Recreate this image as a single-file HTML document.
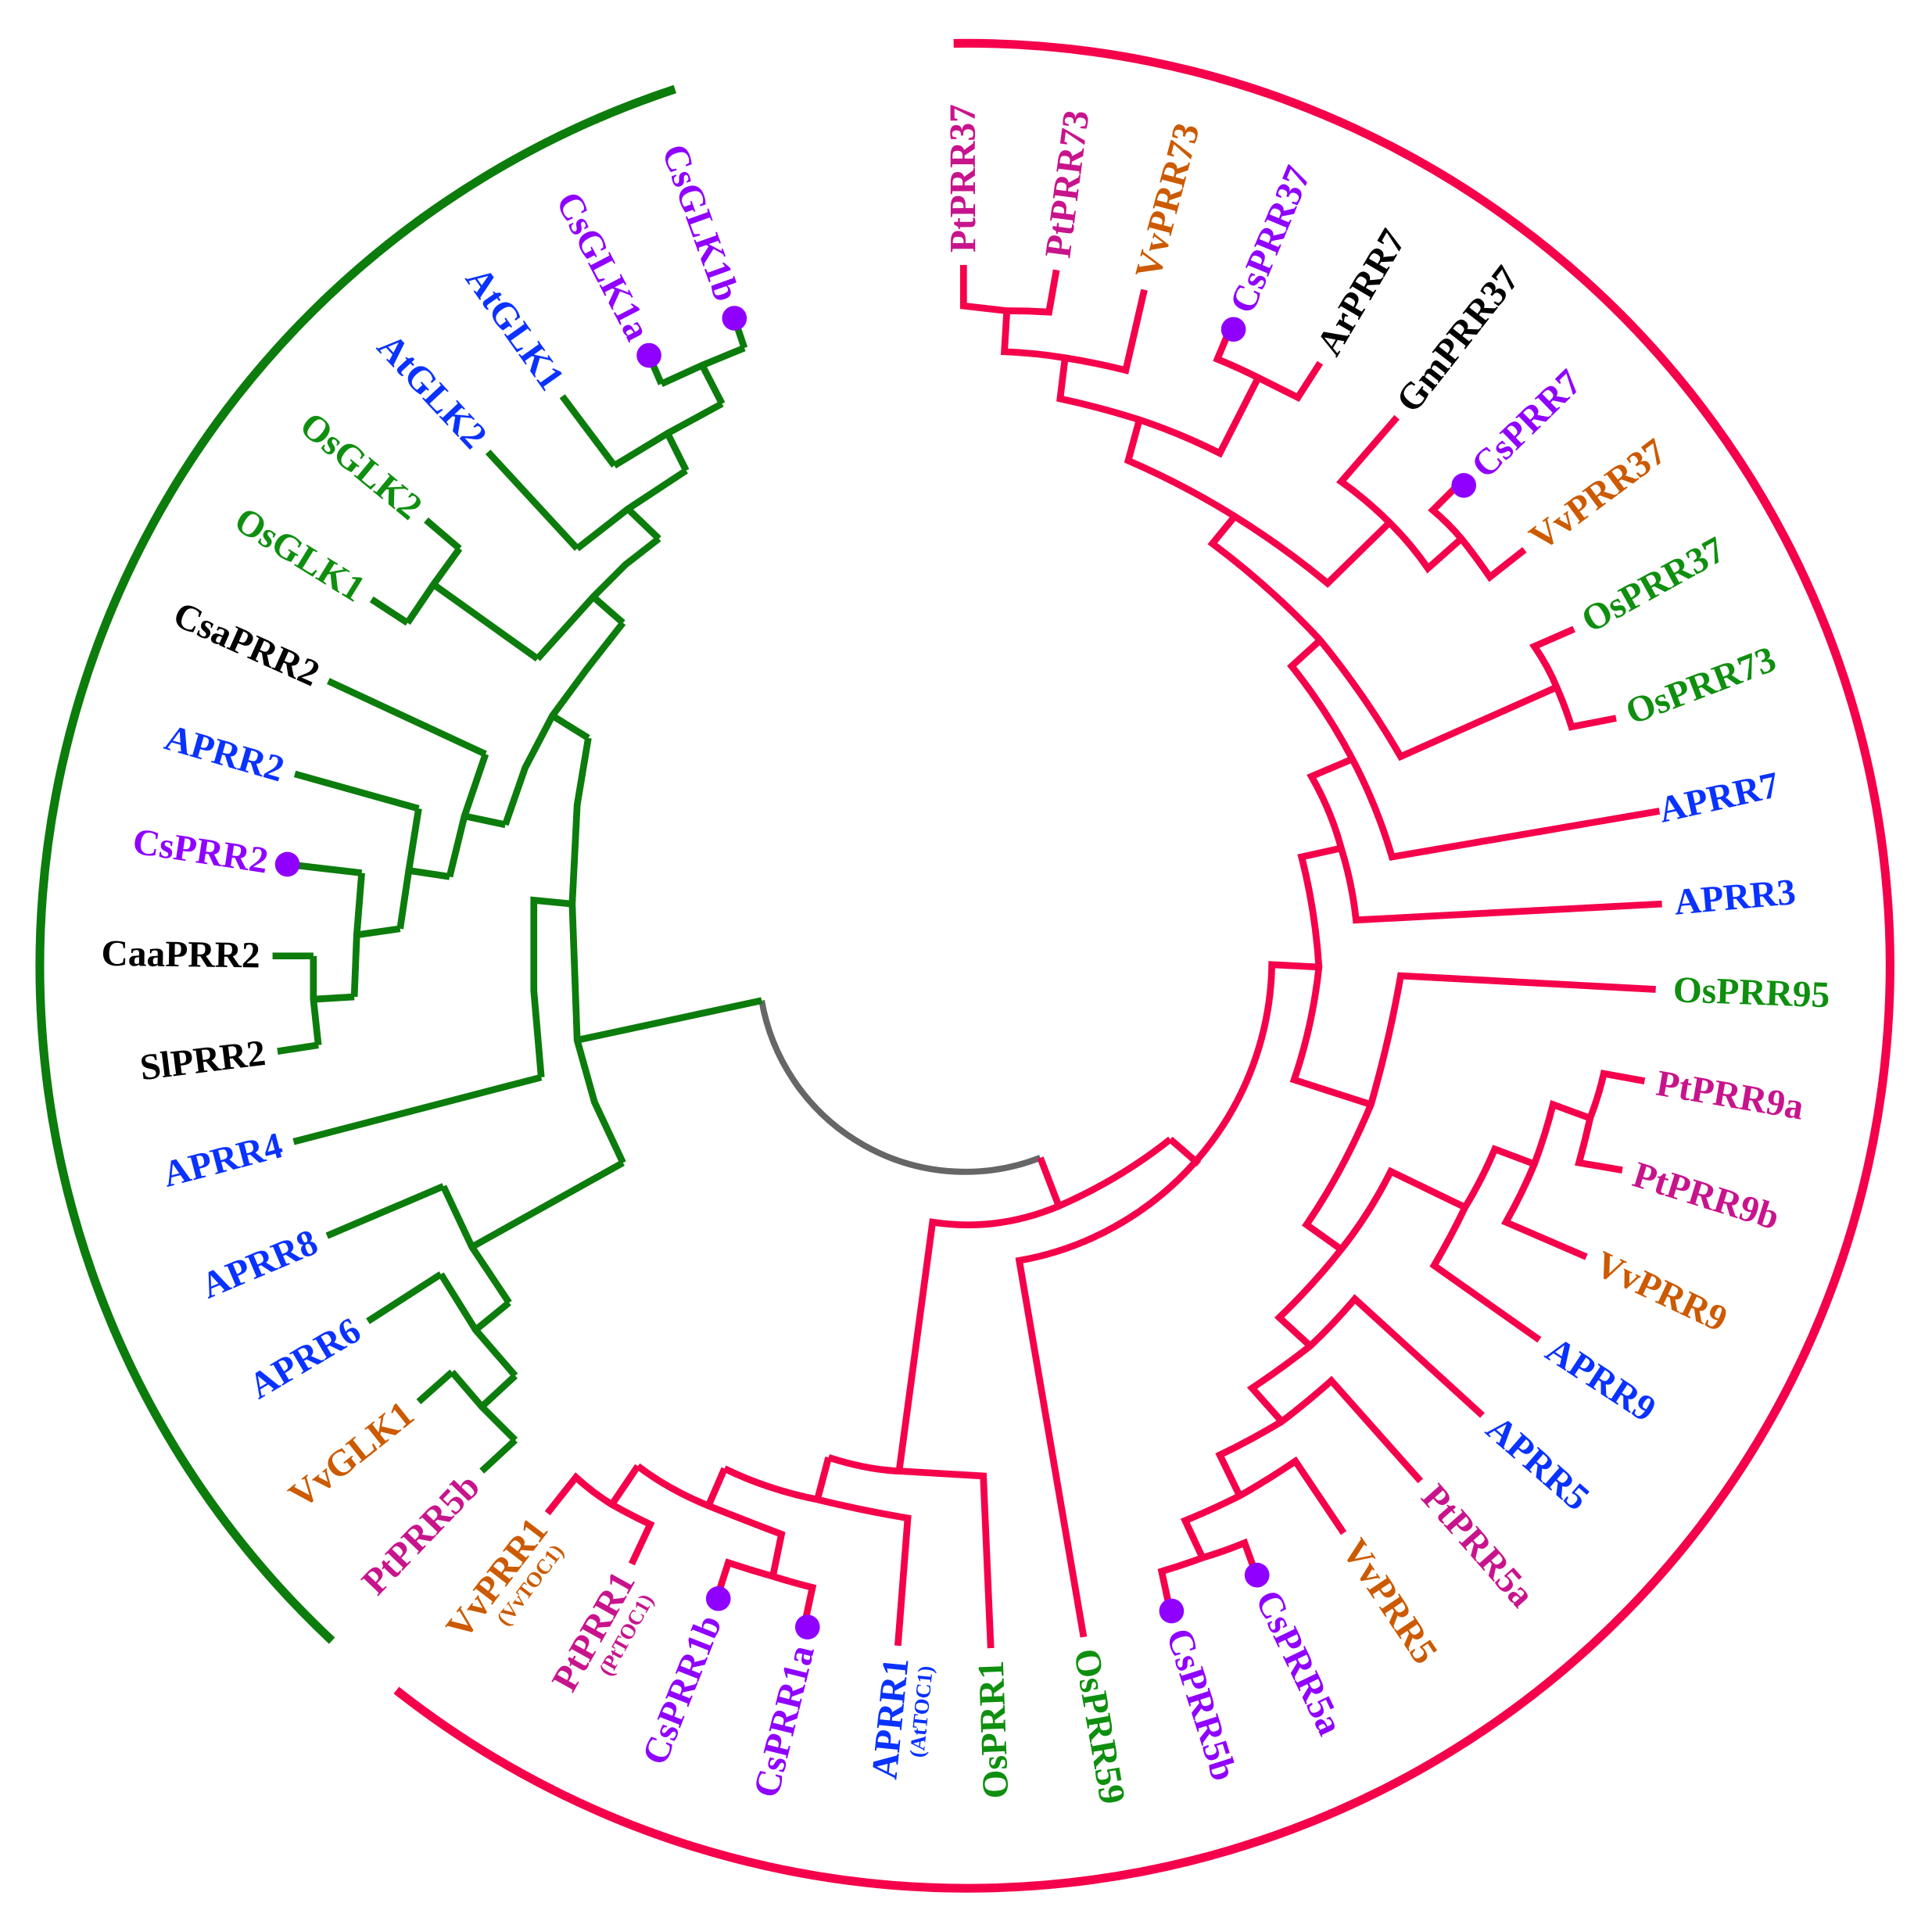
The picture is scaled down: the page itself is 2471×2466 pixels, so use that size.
<!DOCTYPE html>
<html><head><meta charset="utf-8"><style>
html,body{margin:0;padding:0;background:#fff}
svg{display:block}
text{font-family:"Liberation Serif","DejaVu Serif",serif;font-weight:bold;font-size:30px}
.s{font-size:17px}
</style></head><body>
<svg width="2471" height="2466" viewBox="0 0 1560 1557" xmlns="http://www.w3.org/2000/svg">
<rect width="1560" height="1557" fill="#fff"/>
<!-- outer arcs -->
<path d="M545,72 A746,746 0 0 0 268,1325" fill="none" stroke="#0c7c0c" stroke-width="7"/>
<path d="M770,35 A745,745 0 1 1 320,1365" fill="none" stroke="#f5004b" stroke-width="7"/>
<!-- gray root -->
<path d="M615,808 A167,167 0 0 0 840,935" fill="none" stroke="#666" stroke-width="5"/>
<g fill="none" stroke="#0c7c0c" stroke-width="5.5" stroke-linejoin="miter">
<path d="M615,808 L466,840"/>
<path d="M475,596 L466,650 L462,730 L466,840 L480,890 L503,939"/>
<path d="M475,596 L446,578"/>
<path d="M503,503 L474,540 L446,578 L424,620 L408,666"/>
<path d="M503,503 L479,482"/>
<path d="M532,435 L505,456 L479,482 L434,532"/>
<path d="M434,532 L350,472"/>
<path d="M371,443 L350,472 L329,503"/>
<path d="M344,420 L371,443"/>
<path d="M300,484 L329,503"/>
<path d="M532,435 L507,411"/>
<path d="M554,380 L507,411 L466,443"/>
<path d="M394,365 L466,443"/>
<path d="M554,380 L539,350"/>
<path d="M583,326 L539,350 L496,376"/>
<path d="M454,320 L496,376"/>
<path d="M583,326 L567,295"/>
<path d="M601,281 L567,295 L534,310"/>
<path d="M534,310 L524,287"/>
<path d="M601,281 L593,257"/>
<path d="M408,666 L375,659"/>
<path d="M392,609 L375,659 L363,708"/>
<path d="M265,550 L392,609"/>
<path d="M363,708 L330,703"/>
<path d="M338,653 L330,703 L323,750"/>
<path d="M238,625 L338,653"/>
<path d="M323,750 L288,755"/>
<path d="M292,705 L288,755 L286,805"/>
<path d="M232,698 L292,705"/>
<path d="M286,805 L253,807"/>
<path d="M253,772 L253,807 L257,844"/>
<path d="M220,772 L253,772"/>
<path d="M224,849 L257,844"/>
<path d="M462,730 L431,727 L431,800 L437,870"/>
<path d="M237,922 L437,870"/>
<path d="M503,939 L381,1007"/>
<path d="M358,958 L381,1007 L411,1052"/>
<path d="M264,998 L358,958"/>
<path d="M411,1052 L384,1074"/>
<path d="M356,1029 L384,1074 L416,1111"/>
<path d="M297,1067 L356,1029"/>
<path d="M416,1111 L389,1136"/>
<path d="M365,1108 L389,1136 L416,1163"/>
<path d="M338,1132 L365,1108"/>
<path d="M416,1163 L389,1188"/>
</g>
<g fill="none" stroke="#f5004b" stroke-width="5.5">
<path d="M840,935 L855,974"/>
<path d="M726,1188 L753,987 Q805,995 855,974 Q905,952 945,920"/>
<path d="M669,1177 Q700,1187 726,1188 Q760,1190 794,1192 L800,1331"/>
<path d="M669,1177 L660,1211"/>
<path d="M585,1186 Q620,1203 660,1211 Q697,1220 733,1226 L725,1329"/>
<path d="M585,1186 L572,1216"/>
<path d="M515,1184 Q540,1203 572,1216 Q602,1228 631,1239 L624,1273"/>
<path d="M580,1287 L588,1262 Q606,1268 624,1273 Q640,1278 656,1282 L650,1310"/>
<path d="M515,1184 L494,1215"/>
<path d="M442,1222 L465,1193 Q478,1205 494,1215 Q510,1224 525,1231 L510,1263"/>
<path d="M945,920 L968,940"/>
<path d="M875,1322 L823,1018 A247,247 0 0 0 1027,779 L1065,781"/>
<path d="M1083,685 L1051,692 Q1062,735 1065,781 Q1060,828 1045,872 L1107,892"/>
<path d="M1092,613 L1059,627 Q1075,655 1083,685 Q1092,714 1095,743 L1342,730"/>
<path d="M1066,517 L1043,538 Q1071,573 1092,613 Q1112,651 1124,692 L1340,655"/>
<path d="M997,417 L979,439 Q1027,475 1066,517 Q1102,561 1131,611 L1257,555"/>
<path d="M1271,508 L1239,522 Q1250,538 1257,555 Q1264,571 1269,587 L1305,580"/>
<path d="M920,339 L911,372 Q957,392 997,417 Q1037,442 1072,471 L1122,422"/>
<path d="M1128,337 L1083,389 Q1104,404 1122,422 Q1140,440 1153,459 L1180,435"/>
<path d="M1178,391 L1157,412 Q1170,423 1180,435 Q1192,450 1203,466 L1231,444"/>
<path d="M860,289 L856,322 Q889,329 920,339 Q953,350 985,366 L1016,305"/>
<path d="M993,266 L983,290 Q1000,297 1016,305 Q1032,313 1048,321 L1066,293"/>
<path d="M813,251 L811,284 Q836,285 860,289 Q885,293 909,299 L924,234"/>
<path d="M778,214 L778,247 Q796,249 813,251 Q830,251 847,252 L853,218"/>
<path d="M1337,799 L1131,788 Q1122,840 1107,892 Q1085,945 1055,989 L1083,1009"/>
<path d="M1183,975 L1123,946 Q1106,980 1083,1009 Q1060,1038 1033,1064 L1058,1087"/>
<path d="M1239,940 L1207,928 Q1197,952 1183,975 Q1172,998 1158,1022 L1243,1082"/>
<path d="M1284,903 L1254,892 Q1248,916 1239,940 Q1229,964 1216,987 L1281,1015"/>
<path d="M1328,873 L1295,867 Q1291,885 1284,903 Q1280,921 1275,939 L1310,945"/>
<path d="M1197,1143 L1094,1049 Q1077,1069 1058,1087 Q1035,1105 1011,1121 L1035,1148"/>
<path d="M1147,1196 L1075,1115 Q1056,1132 1035,1148 Q1010,1163 985,1175 L1001,1208"/>
<path d="M1085,1238 L1046,1180 Q1024,1195 1001,1208 Q979,1219 957,1228 L971,1258"/>
<path d="M1013,1268 L1005,1246 Q988,1253 971,1258 Q955,1264 938,1269 L944,1297"/>
</g>
<g fill="#9000ff">
<circle cx="593" cy="257" r="10"/><circle cx="524" cy="287" r="10"/>
<circle cx="232" cy="698" r="10"/><circle cx="580" cy="1291" r="10"/>
<circle cx="652" cy="1314" r="10"/><circle cx="946" cy="1301" r="10"/>
<circle cx="1015" cy="1272" r="10"/><circle cx="1182" cy="392" r="10"/>
<circle cx="996" cy="266" r="10"/>
</g>
<g dominant-baseline="central">
<!-- green side (left, flipped) -->
<text transform="translate(593,257) rotate(70.3)" x="-16" text-anchor="end" fill="#9000ff">CsGLK1b</text>
<text transform="translate(524,287) rotate(62.6)" x="-16" text-anchor="end" fill="#9000ff">CsGLK1a</text>
<text transform="translate(454,320) rotate(54.7)" x="-10" text-anchor="end" fill="#0a32ff">AtGLK1</text>
<text transform="translate(394,365) rotate(47.1)" x="-10" text-anchor="end" fill="#0a32ff">AtGLK2</text>
<text transform="translate(344,420) rotate(39.5)" x="-10" text-anchor="end" fill="#0f8f0f">OsGLK2</text>
<text transform="translate(300,484) rotate(31.7)" x="-10" text-anchor="end" fill="#0f8f0f">OsGLK1</text>
<text transform="translate(265,550) rotate(24.1)" x="-10" text-anchor="end" fill="#000">CsaPRR2</text>
<text transform="translate(238,625) rotate(16)" x="-10" text-anchor="end" fill="#0a32ff">APRR2</text>
<text transform="translate(232,698) rotate(8.5)" x="-16" text-anchor="end" fill="#9000ff">CsPRR2</text>
<text transform="translate(220,772) rotate(0.8)" x="-10" text-anchor="end" fill="#000">CaaPRR2</text>
<text transform="translate(224,849) rotate(-7.1)" x="-10" text-anchor="end" fill="#000">SlPRR2</text>
<text transform="translate(237,922) rotate(-14.7)" x="-10" text-anchor="end" fill="#0a32ff">APRR4</text>
<text transform="translate(264,998) rotate(-22.9)" x="-10" text-anchor="end" fill="#0a32ff">APRR8</text>
<text transform="translate(297,1067) rotate(-30.7)" x="-10" text-anchor="end" fill="#0a32ff">APRR6</text>
<text transform="translate(338,1132) rotate(-38.5)" x="-10" text-anchor="end" fill="#cc5a00">VvGLK1</text>
<text transform="translate(389,1188) rotate(-46.2)" x="-10" text-anchor="end" fill="#c8148c">PtPRR5b</text>
<!-- bottom -->
<text transform="translate(442,1222) rotate(-52.6)" x="-10" text-anchor="end" fill="#cc5a00">VvPRR1</text>
<text transform="translate(442,1222) rotate(-52.6)" x="-16" y="24" text-anchor="end" fill="#cc5a00" class="s">(VvTOC1)</text>
<text transform="translate(510,1263) rotate(-60.8)" x="-10" text-anchor="end" fill="#c8148c">PtPRR1</text>
<text transform="translate(510,1263) rotate(-60.8)" x="-16" y="24" text-anchor="end" fill="#c8148c" class="s">(PtTOC1)</text>
<text transform="translate(580,1291) rotate(-68.5)" x="-16" text-anchor="end" fill="#9000ff">CsPRR1b</text>
<text transform="translate(652,1314) rotate(-76.2)" x="-16" text-anchor="end" fill="#9000ff">CsPRR1a</text>
<text transform="translate(725,1329) rotate(-84.3)" x="-10" text-anchor="end" fill="#0a32ff">APRR1</text>
<text transform="translate(725,1329) rotate(-84.3)" x="-14" y="24" text-anchor="end" fill="#0a32ff" class="s">(AtTOC1)</text>
<text transform="translate(800,1331) rotate(-92.1)" x="-10" text-anchor="end" fill="#0f8f0f">OsPRR1</text>
<!-- right side -->
<text transform="translate(875,1322) rotate(80.1)" x="10" fill="#0f8f0f">OsPRR59</text>
<text transform="translate(946,1301) rotate(72.4)" x="16" fill="#9000ff">CsPRR5b</text>
<text transform="translate(1015,1272) rotate(64.5)" x="16" fill="#9000ff">CsPRR5a</text>
<text transform="translate(1085,1238) rotate(56.3)" x="10" fill="#cc5a00">VvPRR5</text>
<text transform="translate(1147,1196) rotate(48.6)" x="10" fill="#c8148c">PtPRR5a</text>
<text transform="translate(1197,1143) rotate(41)" x="10" fill="#0a32ff">APRR5</text>
<text transform="translate(1243,1082) rotate(33.1)" x="10" fill="#0a32ff">APRR9</text>
<text transform="translate(1281,1015) rotate(25.1)" x="10" fill="#cc5a00">VvPRR9</text>
<text transform="translate(1310,945) rotate(17.3)" x="10" fill="#c8148c">PtPRR9b</text>
<text transform="translate(1328,873) rotate(9.6)" x="10" fill="#c8148c">PtPRR9a</text>
<text transform="translate(1337,799) rotate(2)" x="14" fill="#0f8f0f">OsPRR95</text>
<text transform="translate(1342,730) rotate(-5.1)" x="10" fill="#0a32ff">APRR3</text>
<text transform="translate(1340,655) rotate(-12.6)" x="0" fill="#0a32ff">APRR7</text>
<text transform="translate(1305,580) rotate(-20.9)" x="10" fill="#0f8f0f">OsPRR73</text>
<text transform="translate(1271,508) rotate(-29)" x="10" fill="#0f8f0f">OsPRR37</text>
<text transform="translate(1231,444) rotate(-36.7)" x="10" fill="#cc5a00">VvPRR37</text>
<text transform="translate(1182,392) rotate(-44.3)" x="16" fill="#9000ff">CsPRR7</text>
<text transform="translate(1128,337) rotate(-51.9)" x="10" fill="#000">GmPRR37</text>
<text transform="translate(1066,293) rotate(-59.6)" x="10" fill="#000">ArPRR7</text>
<text transform="translate(996,266) rotate(-67.5)" x="16" fill="#9000ff">CsPRR37</text>
<text transform="translate(924,234) rotate(-75.2)" x="10" fill="#cc5a00">VvPRR73</text>
<text transform="translate(853,218) rotate(-82.6)" x="10" fill="#c8148c">PtPRR73</text>
<text transform="translate(778,214) rotate(-90.2)" x="10" fill="#c8148c">PtPRR37</text>
</g>
</svg>
</body></html>
